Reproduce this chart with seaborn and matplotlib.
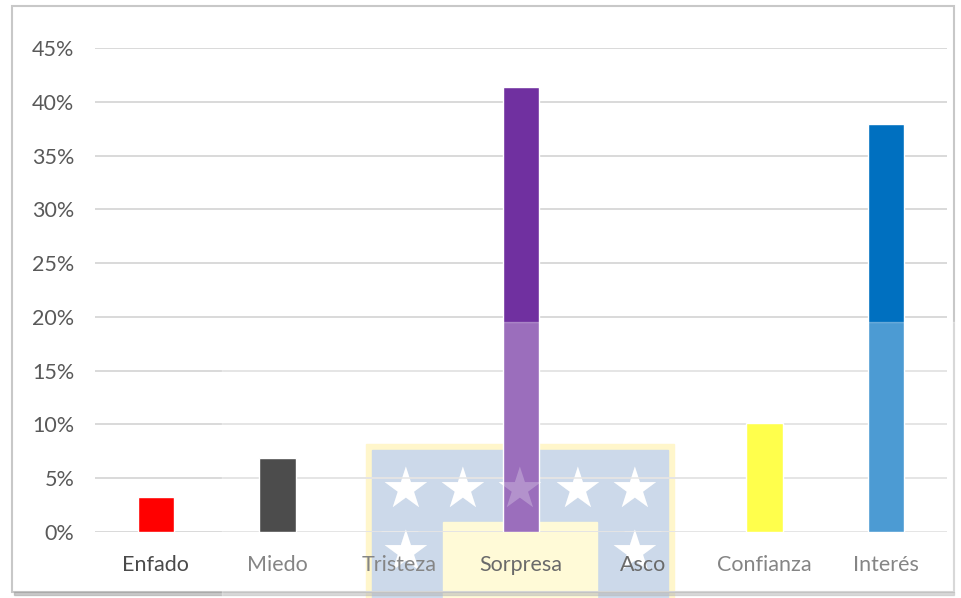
import numpy as np
import pandas as pd
import seaborn as sns
import matplotlib.pyplot as plt
import matplotlib.transforms as mtransforms
from matplotlib.patches import Rectangle
from matplotlib.ticker import PercentFormatter

emociones = ['Enfado', 'Miedo', 'Tristeza', 'Sorpresa', 'Asco', 'Confianza', 'Interés']
porcentajes = [0.0325, 0.0688, 0.0, 0.4136, 0.0, 0.1013, 0.379]
colores = ['#FF0000', '#000000', '#A5A5A5', '#7030A0', '#70AD47', '#FFFF00', '#0070C0']

sns.set_style('white')
plt.rcParams['font.family'] = ['Lato', 'DejaVu Sans']

df = pd.DataFrame({'emocion': emociones, 'valor': porcentajes})

W, H = 961, 598
fig = plt.figure(figsize=(W / 100, H / 100), dpi=100)
ax = fig.add_axes([95 / W, 66 / H, (947 - 95) / W, (532 - 48) / H])
ax.patch.set_visible(False)

sns.barplot(data=df, x='emocion', y='valor', hue='emocion', palette=colores,
            width=0.3, legend=False, ax=ax, saturation=1)

ax.set_ylim(0, 0.4501)
ax.set_xlim(-0.5, len(emociones) - 0.5)
ax.set_yticks(np.arange(0, 0.46, 0.05))
ax.yaxis.set_major_formatter(PercentFormatter(1.0, decimals=0))
ax.yaxis.grid(True, color='#D9D9D9', linewidth=1.4)
ax.set_axisbelow(True)
for s in ax.spines.values():
    s.set_visible(False)
ax.set_xlabel('')
ax.set_ylabel('')
ax.tick_params(axis='y', length=0, pad=15, labelsize=15.5, labelcolor='#595959')
ax.tick_params(axis='x', length=0)
ax.set_xticklabels([])

# etiquetas del eje x por encima de la marca de agua
trans = mtransforms.blended_transform_factory(ax.transData, fig.transFigure)
for i, e in enumerate(emociones):
    if i == 0:
        c = '#4A4A4A'
    elif e in ('Sorpresa', 'Asco'):
        c = '#6A6A6A'
    else:
        c = '#858585'
    fig.text(i, 1 - 565 / H, e, transform=trans, ha='center', va='center',
             fontsize=15.5, color=c, zorder=9)

# marco del grafico
fig.patches.append(Rectangle((12 / W, 6 / H), 942 / W, 586 / H, transform=fig.transFigure,
                             fill=False, edgecolor='#C8C8C8', linewidth=1.5, zorder=5))
fig.patches.append(Rectangle((14 / W, 3 / H), 940 / W, 3 / H, transform=fig.transFigure,
                             color='#9A9A9A', alpha=0.5, zorder=5))

# logo (marca de agua), debajo de las barras
fig.patches.append(Rectangle((366 / W, 0), 308 / W, (598 - 444) / H, transform=fig.transFigure,
                             color='#FFF3B5', zorder=-3))
fig.patches.append(Rectangle((372 / W, 0), 296 / W, (598 - 450) / H, transform=fig.transFigure,
                             color='#B6C9E1', zorder=-2))
fig.patches.append(Rectangle((443 / W, 0), 154 / W, (598 - 522) / H, transform=fig.transFigure,
                             color='#FFF9C7', zorder=-1))
estrellas = [(405, 492), (462, 492), (519, 492), (577, 492), (634, 492), (405, 555), (634, 555)]
for sx, sy in estrellas:
    fig.text(sx / W, 1 - sy / H, '★', color='white', fontsize=40,
             family='DejaVu Sans', ha='center', va='center', zorder=-0.5)
    # reflejo tenue de la estrella sobre las barras
    fig.text(sx / W, 1 - sy / H, '★', color='white', alpha=0.25, fontsize=40,
             family='DejaVu Sans', ha='center', va='center', zorder=5.5)

# velo blanco de la marca de agua
fig.patches.append(Rectangle((222 / W, 0), (W - 222) / W, (598 - 322) / H,
                             transform=fig.transFigure, color='white', alpha=0.3, zorder=6))

fig.savefig('out.png', dpi=100)
